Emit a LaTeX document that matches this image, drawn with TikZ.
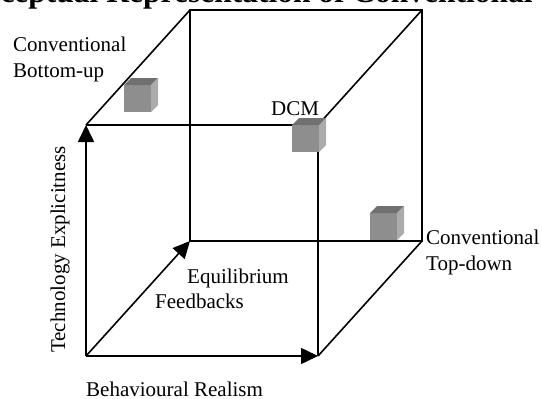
\documentclass[tikz,border=0pt]{standalone}
\usepackage{fontspec}
\setmainfont{Liberation Serif}
\usetikzlibrary{arrows.meta}
\definecolor{cubefront}{HTML}{8E8E8E}
\definecolor{cubetop}{HTML}{707070}
\definecolor{cubeside}{HTML}{ABABAB}
\tikzset{
  edge/.style={line width=1.6pt},
  axis/.style={line width=1.6pt,-{Triangle[length=17pt,width=16pt]}},
  lbl/.style={inner sep=0pt,font=\fontsize{21}{26}\selectfont},
  minicube/.pic={
    \fill[cubefront] (0,0) rectangle (27,27);
    \fill[cubetop] (0,0)--(7,-7)--(34,-7)--(27,0)--cycle;
    \fill[cubeside] (27,0)--(34,-7)--(34,20)--(27,27)--cycle;
  }
}
\begin{document}
\begin{tikzpicture}[x=1pt,y=-1pt]
        \useasboundingbox (0,0) rectangle (542,399);
        \clip (0,0) rectangle (542,399);
        % title, cut off at the top
        \node[lbl,anchor=base east,font=\fontsize{31.5}{36}\selectfont\bfseries] (title) at (533,2) {Conceptual Representation of Conventional};
        % corners of the cube
        \coordinate (fbl) at (86,356);
        \coordinate (fbr) at (318,356);
        \coordinate (ftl) at (86,125);
        \coordinate (ftr) at (318,125);
        \coordinate (bbl) at (190,241);
        \coordinate (bbr) at (422,241);
        \coordinate (btl) at (190,10);
        \coordinate (btr) at (422,10);
        \draw[edge] (ftl)--(ftr)--(fbr);
        \draw[edge] (bbl)--(bbr)--(btr)--(btl)--cycle;
        \draw[edge] (ftl)--(btl);
        \draw[edge] (ftr)--(btr);
        \draw[edge] (fbr)--(bbr);
        \draw[axis] (fbl)--(ftl);
        \draw[axis] (fbl)--(fbr);
        \draw[axis] (fbl)--(bbl);
        % small cubes
        \pic at (124,85) {minicube};
        \pic at (292,125) {minicube};
        \pic at (370,213) {minicube};
        % labels
        \node[lbl,anchor=base west,align=left] (bottomup) at (13,77) {Conventional\\Bottom-up};
        \node[lbl,anchor=base west] (dcm) at (271,115) {DCM};
        \node[lbl,anchor=base west,align=left] (topdown) at (426,270) {Conventional\\Top-down};
        \node[lbl,anchor=base west] (equil) at (187,283) {Equilibrium};
        \node[lbl,anchor=base west] (feedb) at (155,308) {Feedbacks};
        \node[lbl,anchor=base west] (behav) at (86,396) {Behavioural Realism};
        \node[lbl,anchor=base west,rotate=90] (techn) at (65,353) {Technology Explicitness};
\end{tikzpicture}
\end{document}
